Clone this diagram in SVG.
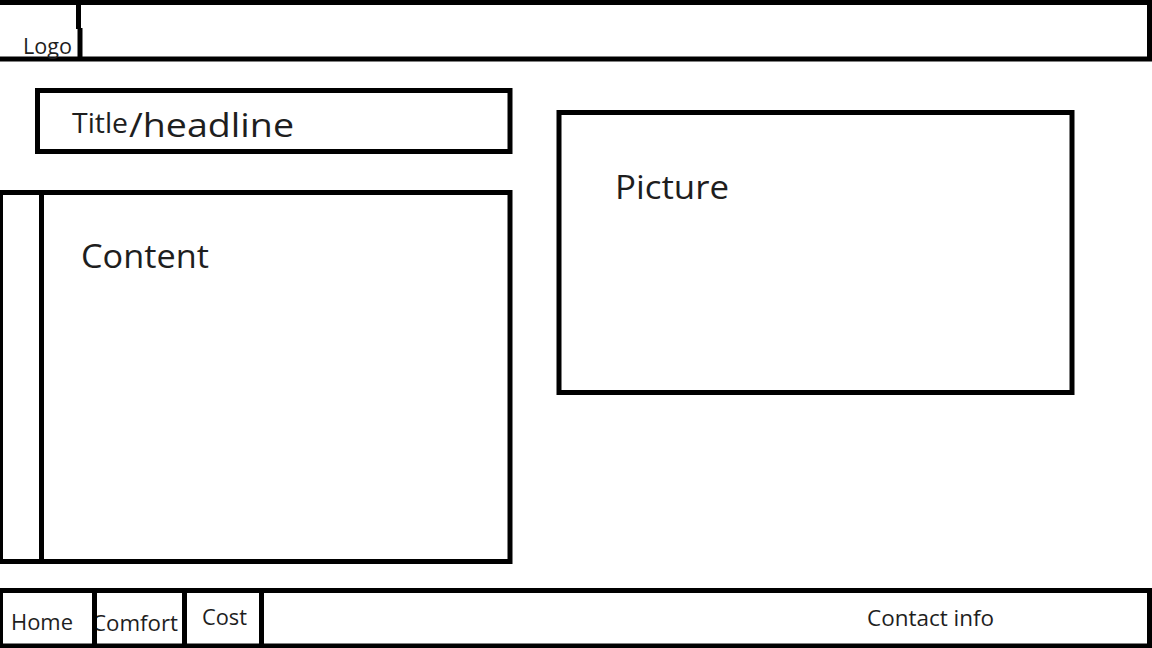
<svg xmlns="http://www.w3.org/2000/svg" width="1152" height="648" viewBox="0 0 1152 648">
<style>
.box{fill:none;stroke:#000;stroke-width:5}
.div{stroke:#000;stroke-width:5}
.t{font-family:"Open Sans","Noto Sans",sans-serif;fill:#1e1e1e}
</style>
<rect width="1152" height="648" fill="#fff"/>
<g id="header">
<rect class="box" x="-3" y="2.5" width="1152.5" height="56.5"/>
<line class="div" x1="78.5" y1="2" x2="78.5" y2="29"/>
<line class="div" x1="80" y1="28" x2="80" y2="59"/>
<text class="t" x="23" y="54" font-size="21" textLength="49" lengthAdjust="spacingAndGlyphs">Logo</text>
</g>
<g id="title">
<rect class="box" x="37.5" y="90.5" width="472.5" height="61"/>
<text class="t" x="72" y="133" font-size="28" textLength="56" lengthAdjust="spacingAndGlyphs">Title</text>
<text class="t" x="129" y="137" font-size="32" textLength="165" lengthAdjust="spacingAndGlyphs">/headline</text>
</g>
<g id="content">
<rect class="box" x="0.5" y="192.5" width="509.5" height="369"/>
<line class="div" x1="41.5" y1="192" x2="41.5" y2="562"/>
<text class="t" x="81" y="268" font-size="32" textLength="128" lengthAdjust="spacingAndGlyphs">Content</text>
</g>
<g id="picture">
<rect class="box" x="559" y="112.5" width="513" height="280"/>
<text class="t" x="615" y="199" font-size="32" textLength="114" lengthAdjust="spacingAndGlyphs">Picture</text>
</g>
<g id="footer">
<rect class="box" x="0.5" y="590.5" width="1149" height="55.5"/>
<text class="t" x="11" y="630" font-size="21" textLength="62" lengthAdjust="spacingAndGlyphs">Home</text>
<text class="t" x="92" y="631" font-size="21" textLength="86" lengthAdjust="spacingAndGlyphs">Comfort</text>
<text class="t" x="202" y="625" font-size="21" textLength="45" lengthAdjust="spacingAndGlyphs">Cost</text>
<text class="t" x="867" y="626" font-size="21" textLength="127" lengthAdjust="spacingAndGlyphs">Contact info</text>
<line class="div" x1="94.5" y1="590" x2="94.5" y2="646"/>
<line class="div" x1="184.5" y1="590" x2="184.5" y2="646"/>
<line class="div" x1="261.5" y1="590" x2="261.5" y2="646"/>
</g>
<g id="connectors"/>
</svg>
